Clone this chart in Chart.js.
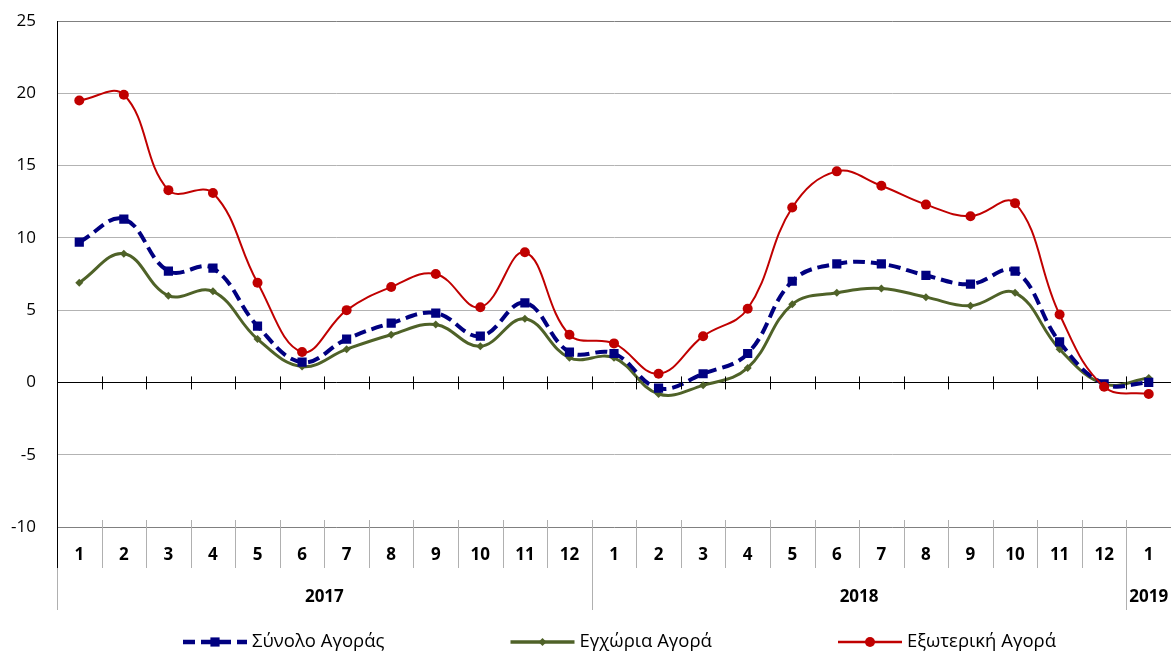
<!DOCTYPE html>
<html lang="el">
<head>
<meta charset="UTF-8">
<title>Αγορά</title>
<script src="https://cdn.jsdelivr.net/npm/chart.js"></script>
<style>
  body { margin: 0; background: #fff; }
  canvas { display: block; }
</style>
</head>
<body>
<canvas id="chart" width="1171" height="652"></canvas>
<script>
// μήνες του άξονα Χ και έτη
const months = ['1','2','3','4','5','6','7','8','9','10','11','12',
                '1','2','3','4','5','6','7','8','9','10','11','12','1'];
const years = ['2017', '2018', '2019'];
const yearSpans = [12, 12, 1];

// σειρές
const seriesNames = ['Σύνολο Αγοράς', 'Εγχώρια Αγορά', 'Εξωτερική Αγορά'];
const totalMarket = [9.7, 11.3, 7.7, 7.9, 3.9, 1.4, 3.0, 4.1, 4.8, 3.2, 5.5, 2.1,
                     2.0, -0.4, 0.6, 2.0, 7.0, 8.2, 8.2, 7.4, 6.8, 7.7, 2.8, -0.1, 0.0];
const domesticMarket = [6.9, 8.9, 6.0, 6.3, 3.0, 1.1, 2.3, 3.3, 4.0, 2.5, 4.4, 1.7,
                        1.7, -0.8, -0.2, 1.0, 5.4, 6.2, 6.5, 5.9, 5.3, 6.2, 2.3, -0.1, 0.3];
const foreignMarket = [19.5, 19.9, 13.3, 13.1, 6.9, 2.1, 5.0, 6.6, 7.5, 5.2, 9.0, 3.3,
                       2.7, 0.6, 3.2, 5.1, 12.1, 14.6, 13.6, 12.3, 11.5, 12.4, 4.7, -0.3, -0.8];

// άξονας Υ
const yMin = -10, yMax = 25, yStep = 5;

const FONT = '"Open Sans", "DejaVu Sans", sans-serif';

// άξονας με διαχωριστικά, ετικέτες μηνών/ετών και υπόμνημα
const axisDecor = {
    id: 'axisDecor',
    afterDraw(chart) {
        const c = chart.ctx;
        const area = chart.chartArea;
        const xs = chart.scales.x;
        const ys = chart.scales.y;
        const n = months.length;
        const w = (area.right - area.left) / n;
        const y0 = ys.getPixelForValue(0);
        c.save();

        // μικρές υποδιαιρέσεις στη γραμμή του μηδενός
        c.strokeStyle = '#000';
        c.lineWidth = 1;
        c.beginPath();
        for (let i = 1; i < n; i++) {
            const x = Math.round(area.left + i * w) + 0.5;
            c.moveTo(x, y0 - 6);
            c.lineTo(x, y0 + 7);
        }
        c.stroke();

        // διαχωριστικά μηνών / ετών
        c.strokeStyle = '#b0b0b0';
        c.beginPath();
        let acc = 0;
        const yearEnds = yearSpans.map(s => (acc += s));
        for (let i = 1; i < n; i++) {
            const x = Math.round(area.left + i * w) + 0.5;
            const long = yearEnds.includes(i);
            c.moveTo(x, area.bottom - 7);
            c.lineTo(x, long ? 610 : 568);
        }
        c.stroke();

        // συνέχεια του αριστερού άξονα
        c.strokeStyle = '#000';
        c.beginPath();
        c.moveTo(area.left + 0.5, area.bottom);
        c.lineTo(area.left + 0.5, 568);
        c.stroke();
        c.strokeStyle = '#b0b0b0';
        c.beginPath();
        c.moveTo(area.left + 0.5, 568);
        c.lineTo(area.left + 0.5, 610);
        c.stroke();

        // ετικέτες μηνών
        c.fillStyle = '#000';
        c.font = 'bold 17px ' + FONT;
        c.textAlign = 'center';
        c.textBaseline = 'middle';
        months.forEach((m, i) => c.fillText(m, xs.getPixelForValue(i), 555));

        // ετικέτες ετών
        let start = 0;
        years.forEach((yr, k) => {
            const x1 = xs.getPixelForValue(start) - w / 2;
            const x2 = xs.getPixelForValue(start + yearSpans[k] - 1) + w / 2;
            c.fillText(yr, (x1 + x2) / 2, 597);
            start += yearSpans[k];
        });

        // υπόμνημα
        const ly = 642;
        c.font = '18.5px ' + FONT;
        c.textAlign = 'left';
        chart.data.datasets.forEach((ds, i) => {
            const lx = 183 + i * 327.5;
            c.strokeStyle = ds.borderColor;
            c.lineWidth = ds.borderWidth + 0.5;
            c.setLineDash(ds.borderDash || []);
            c.beginPath();
            c.moveTo(lx, ly);
            c.lineTo(lx + 64, ly);
            c.stroke();
            c.setLineDash([]);
            c.fillStyle = ds.pointBackgroundColor;
            Chart.helpers.drawPoint(c, {pointStyle: ds.pointStyle, radius: ds.pointRadius, borderWidth: 0}, lx + 32, ly);
            c.fillStyle = '#000';
            c.fillText(seriesNames[i], lx + 69, ly);
        });
        c.restore();
    }
};

new Chart(document.getElementById('chart'), {
    type: 'line',
    data: {
        labels: months,
        datasets: [
            { label: seriesNames[0], data: totalMarket, order: 1,
              borderColor: '#000080', borderWidth: 4, borderDash: [12, 6],
              pointStyle: 'rect', pointRadius: 6.5, pointBackgroundColor: '#000080', pointBorderWidth: 0,
              tension: 0.4, fill: false },
            { label: seriesNames[1], data: domesticMarket, order: 2,
              borderColor: '#4f6228', borderWidth: 3,
              pointStyle: 'rectRot', pointRadius: 4, pointBackgroundColor: '#4f6228', pointBorderWidth: 0,
              tension: 0.4, fill: false },
            { label: seriesNames[2], data: foreignMarket, order: 0,
              borderColor: '#c00000', borderWidth: 2,
              pointStyle: 'circle', pointRadius: 5, pointBackgroundColor: '#c00000', pointBorderWidth: 0,
              tension: 0.4, fill: false }
        ]
    },
    options: {
        responsive: false,
        animation: false,
        layout: { autoPadding: false, padding: { top: 21, right: 0, bottom: 0, left: 0 } },
        plugins: { legend: { display: false }, tooltip: { enabled: false } },
        scales: {
            x: {
                offset: true,
                grid: { display: false },
                border: { display: false },
                ticks: { display: false },
                afterFit: s => { s.height = 125; s.paddingLeft = 0; s.paddingRight = 0; }
            },
            y: {
                min: yMin, max: yMax,
                ticks: { stepSize: yStep, color: '#000', font: { family: FONT, size: 17 }, padding: 21 },
                grid: {
                    drawTicks: false,
                    color: ctx => ctx.tick.value === 0 ? '#000' : (ctx.tick.value === yMax || ctx.tick.value === yMin ? '#808080' : '#b3b3b3')
                },
                border: { display: true, color: '#000' },
                afterFit: s => { s.width = 57; s.paddingTop = 0; s.paddingBottom = 0; }
            }
        }
    },
    plugins: [axisDecor]
});
</script>
</body>
</html>
